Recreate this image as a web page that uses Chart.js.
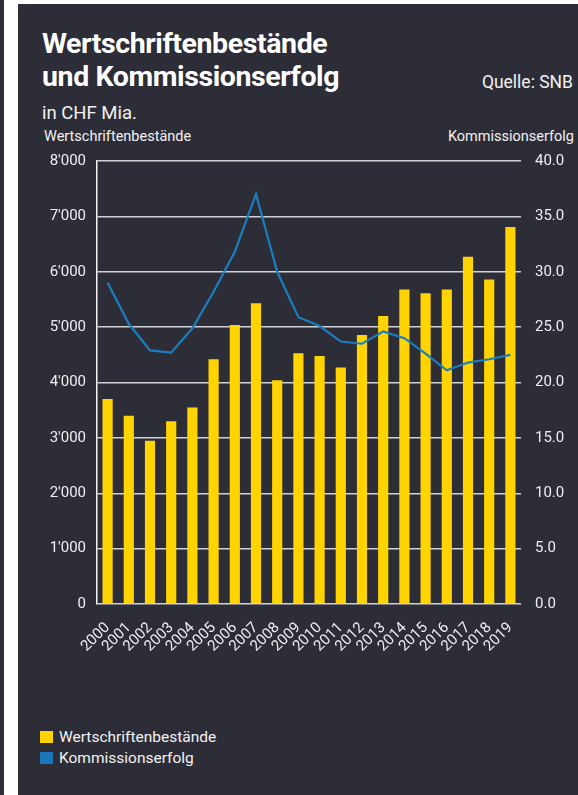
<!DOCTYPE html>
<html lang="de">
<head>
    <meta charset="UTF-8">
    <title>Wertschriftenbestände und Kommissionserfolg</title>
    <script src="https://cdn.jsdelivr.net/npm/chart.js"></script>
    <style>
        body {
            margin: 0;
            width: 578px;
            height: 795px;
            background-color: #fff;
            font-family: Roboto, sans-serif;
            position: relative;
            overflow: hidden;
        }
        .strip {
            position: absolute;
            left: 0;
            top: 0;
            width: 4px;
            height: 795px;
            background-color: #2d2d37;
        }
        .panel {
            position: absolute;
            left: 18px;
            top: 4px;
            width: 560px;
            height: 791px;
            background-color: #2d2d37;
            color: #f2f2f2;
        }
        .title {
            position: absolute;
            left: 24px;
            top: 23px;
            font-size: 28.5px;
            font-weight: bold;
            line-height: 33px;
            letter-spacing: -0.4px;
            color: #fff;
        }
        .source {
            position: absolute;
            right: 5px;
            top: 68px;
            font-size: 17.5px;
        }
        .unit {
            position: absolute;
            left: 24px;
            top: 98px;
            font-size: 18.5px;
        }
        .axis-title {
            position: absolute;
            top: 124px;
            font-size: 14.5px;
        }
        .legend {
            position: absolute;
            left: 22px;
            top: 723px;
            font-size: 15.5px;
            line-height: 21px;
        }
        .legend span {
            display: inline-block;
            width: 13px;
            height: 12px;
            margin-right: 6px;
            vertical-align: -1px;
        }
        canvas {
            position: absolute;
            left: 0;
            top: 121px;
        }
    </style>
</head>
<body>
    <div class="strip"></div>
    <div class="panel">
        <div class="title">Wertschriftenbestände<br>und Kommissionserfolg</div>
        <div class="source">Quelle: SNB</div>
        <div class="unit">in CHF Mia.</div>
        <div class="axis-title" style="left: 26px;">Wertschriftenbestände</div>
        <div class="axis-title" style="right: 4px;">Kommissionserfolg</div>
        <canvas id="chart" width="560" height="555"></canvas>
        <div class="legend">
            <div><span style="background:#ffd400"></span>Wertschriftenbestände</div>
            <div><span style="background:#1a78b8"></span>Kommissionserfolg</div>
        </div>
    </div>

    <script>
        // Jahre
        const years = ['2000', '2001', '2002', '2003', '2004', '2005', '2006', '2007', '2008', '2009',
                       '2010', '2011', '2012', '2013', '2014', '2015', '2016', '2017', '2018', '2019'];

        // Wertschriftenbestände (CHF Mia.), linke Achse
        const bestaende = [3700, 3400, 2950, 3300, 3550, 4420, 5040, 5430, 4040, 4530,
                           4480, 4270, 4860, 5200, 5680, 5610, 5680, 6270, 5860, 6810];

        // Kommissionserfolg (CHF Mia.), rechte Achse
        const kommission = [29.0, 25.3, 22.9, 22.7, 24.9, 28.2, 31.8, 37.0, 30.0, 25.9,
                            25.1, 23.7, 23.5, 24.6, 24.0, 22.6, 21.1, 21.8, 22.1, 22.5];

        Chart.defaults.font.family = 'Roboto, sans-serif';
        Chart.defaults.color = '#eeeef2';

        new Chart(document.getElementById('chart'), {
            data: {
                labels: years,
                datasets: [{
                    type: 'line',
                    label: 'Kommissionserfolg',
                    data: kommission,
                    yAxisID: 'y1',
                    borderColor: '#1a7ec0',
                    borderWidth: 2.2,
                    pointRadius: 0,
                    tension: 0,
                    order: 0
                }, {
                    type: 'bar',
                    label: 'Wertschriftenbestände',
                    data: bestaende,
                    yAxisID: 'y',
                    backgroundColor: '#ffd400',
                    categoryPercentage: 1,
                    barPercentage: 0.48,
                    order: 1
                }]
            },
            options: {
                responsive: false,
                animation: false,
                layout: {
                    padding: { top: 36, left: 0, right: 0, bottom: 0 }
                },
                plugins: {
                    legend: { display: false },
                    tooltip: { enabled: false }
                },
                scales: {
                    x: {
                        grid: { display: false },
                        border: { display: false },
                        ticks: {
                            minRotation: 45,
                            maxRotation: 45,
                            autoSkip: false,
                            padding: 7,
                            font: { size: 15 }
                        },
                        afterFit: (scale) => { scale.height = 76; }
                    },
                    y: {
                        position: 'left',
                        min: 0,
                        max: 8000,
                        grid: { color: '#d2d2d6', lineWidth: 1.4, drawTicks: false },
                        border: { display: true, color: '#f4f4f4', width: 1.5 },
                        ticks: {
                            stepSize: 1000,
                            padding: 11,
                            font: { size: 15 },
                            callback: (v) => v === 0 ? '0' : (v / 1000) + "'000"
                        },
                        afterFit: (scale) => { scale.width = 79; }
                    },
                    y1: {
                        position: 'right',
                        min: 0,
                        max: 40,
                        grid: { display: false, drawTicks: false },
                        border: { display: false },
                        ticks: {
                            stepSize: 5,
                            padding: 14,
                            font: { size: 15 },
                            callback: (v) => v.toFixed(1)
                        },
                        afterFit: (scale) => { scale.width = 57; }
                    }
                }
            }
        });
    </script>
</body>
</html>
